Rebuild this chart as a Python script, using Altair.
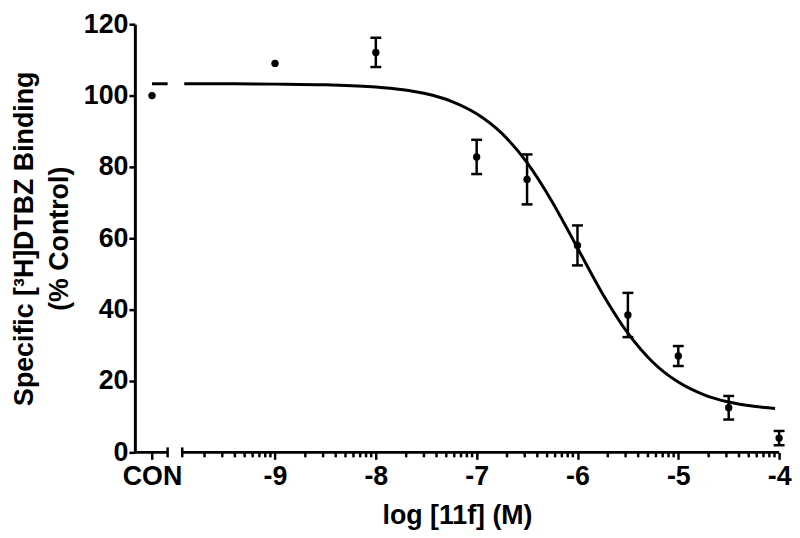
import altair as alt
import pandas as pd
import numpy as np

# ---------------- data ----------------
con_label = ["CON"]
con_pos = [-10.22]              # where the CON group sits on the broken x axis
con_mean = [100.0]

log_conc = [-9.0, -8.0, -7.0, -6.5, -6.0, -5.5, -5.0, -4.5, -4.0]
mean_binding = [109.0, 112.1, 82.8, 76.5, 58.0, 38.5, 27.0, 12.5, 4.0]
sem_binding = [0.0, 4.1, 4.8, 7.0, 5.6, 6.2, 2.8, 3.3, 2.0]

curve_x = [-9.9, -9.5, -9.0, -8.5, -8.0, -7.75, -7.5, -7.25, -7.0, -6.75, -6.5,
           -6.25, -6.0, -5.75, -5.5, -5.25, -5.0, -4.75, -4.5, -4.25, -4.04]
curve_y = [103.3, 103.3, 103.2, 103.0, 102.4, 101.7, 100.5, 98.4, 94.9, 89.4, 81.2,
           70.2, 57.3, 44.4, 33.4, 25.2, 19.7, 16.2, 14.1, 12.9, 12.3]

con_curve_x = [-10.22, -10.065]
con_curve_y = [103.3, 103.3]

x_domain = [-10.39, -4.0]
seg_start = [-10.39, -9.92]     # broken x axis: two segments
seg_end = [-10.065, -4.0]
x_major = [-9, -8, -7, -6, -5, -4]
y_ticks = [0, 20, 40, 60, 80, 100, 120]
y_domain = [0, 120]

# minor (log) ticks between decades
x_minor = [float(n + np.log10(k)) for n in range(-10, -4) for k in range(2, 10)]
x_minor = [v for v in x_minor if seg_start[1] < v < seg_end[1]]

# caps at the axis break
break_caps = [seg_end[0], seg_start[1]]

FONT = "Liberation Sans"
FS = 27
BLACK = "#000000"

main_df = pd.DataFrame({"x": log_conc, "mean": mean_binding, "sem": sem_binding})
err_df = main_df[main_df["sem"] > 0].reset_index(drop=True)
curve_df = pd.DataFrame({"x": curve_x, "y": curve_y})
con_df = pd.DataFrame({"x": con_pos, "mean": con_mean, "label": con_label})
con_curve_df = pd.DataFrame({"x": con_curve_x, "y": con_curve_y})
minor_df = pd.DataFrame({"x": x_minor, "y": [0.0] * len(x_minor)})
seg_df = pd.DataFrame({"x": seg_start, "x2": seg_end, "y": [0.0, 0.0]})
cap_df = pd.DataFrame({"x": break_caps, "y": [0.0, 0.0]})

xscale = alt.Scale(domain=x_domain, nice=False, zero=False)
yscale = alt.Scale(domain=y_domain, nice=False, zero=True)

x_axis = alt.Axis(
    values=con_pos + x_major,
    labelExpr="datum.value < -10 ? 'CON' : '-' + abs(datum.value)",
    domain=False, grid=False,
    tickSize=7, tickWidth=2.5, labelPadding=4,
    labelFont=FONT, labelFontSize=FS, labelFontWeight="bold",
    labelOverlap=False, labelFlush=False,
    title="log [11f] (M)", titleFont=FONT, titleFontSize=FS, titleFontWeight="bold",
    titlePadding=14,
)
y_axis = alt.Axis(
    values=y_ticks, title=["Specific [³H]DTBZ Binding", "(% Control)"],
    grid=False, tickSize=6, tickWidth=2.5, domainWidth=3, labelPadding=1,
    labelFont=FONT, labelFontSize=FS, labelFontWeight="bold",
    titleFont=FONT, titleFontSize=FS, titleFontWeight="bold",
    titleLineHeight=35, titlePadding=10, labelFlush=False,
)

segments = alt.Chart(seg_df).mark_rule(color=BLACK, strokeWidth=3).encode(
    x=alt.X("x:Q", scale=xscale, axis=x_axis),
    x2="x2:Q",
    y=alt.Y("y:Q", scale=yscale, axis=y_axis),
)
caps = alt.Chart(cap_df).mark_tick(
    orient="vertical", size=10, thickness=2.5, color=BLACK, opacity=1
).encode(x="x:Q", y="y:Q")
minor_ticks = alt.Chart(minor_df).mark_tick(
    orient="vertical", size=5, thickness=2.5, color=BLACK, opacity=1, yOffset=2.5
).encode(x="x:Q", y="y:Q")

curve = alt.Chart(curve_df).mark_line(color=BLACK, strokeWidth=3, interpolate="monotone").encode(
    x="x:Q", y="y:Q"
)
con_line = alt.Chart(con_curve_df).mark_line(color=BLACK, strokeWidth=3).encode(x="x:Q", y="y:Q")

err_rule = alt.Chart(err_df).transform_calculate(
    lo="datum.mean - datum.sem", hi="datum.mean + datum.sem"
).mark_rule(color=BLACK, strokeWidth=2.5).encode(x="x:Q", y="lo:Q", y2="hi:Q")
err_lo = alt.Chart(err_df).transform_calculate(lo="datum.mean - datum.sem").mark_tick(
    orient="horizontal", size=11, thickness=2.5, color=BLACK, opacity=1
).encode(x="x:Q", y="lo:Q")
err_hi = alt.Chart(err_df).transform_calculate(hi="datum.mean + datum.sem").mark_tick(
    orient="horizontal", size=11, thickness=2.5, color=BLACK, opacity=1
).encode(x="x:Q", y="hi:Q")

points = alt.Chart(main_df).mark_point(filled=True, size=55, color=BLACK, opacity=1).encode(
    x="x:Q", y="mean:Q"
)
con_points = alt.Chart(con_df).mark_point(filled=True, size=55, color=BLACK, opacity=1).encode(
    x="x:Q", y="mean:Q"
)

chart = alt.layer(
    segments, caps, minor_ticks, curve, con_line, err_rule, err_lo, err_hi, points, con_points
).properties(
    width=650, height=432, background="white",
    padding={"left": 2, "top": 0, "right": 0, "bottom": 0},
).configure_view(
    stroke=None
).configure_axis(
    domainColor=BLACK, tickColor=BLACK, labelColor=BLACK, titleColor=BLACK
)

chart.save("out.html", embed_options={"renderer": "svg", "actions": False})
